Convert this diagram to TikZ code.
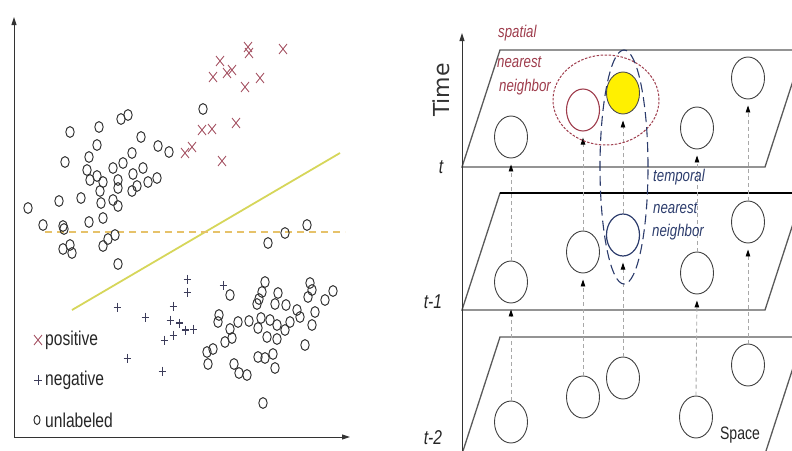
\documentclass[tikz,border=0pt]{standalone}
\usepackage{fontspec}
\setmainfont{Liberation Sans}
\newfontfamily\narrowfont[FakeStretch=0.78]{Liberation Sans}
\newfontfamily\timefont{DejaVu Sans}
\usetikzlibrary{shapes.geometric,arrows.meta}
\definecolor{poscol}{HTML}{A85868}
\definecolor{negcol}{HTML}{3C3C5A}
\definecolor{unlcol}{HTML}{333333}
\definecolor{solidyel}{HTML}{D6D65A}
\definecolor{dashyel}{HTML}{E6C26A}
\definecolor{spatcol}{HTML}{9E3C4C}
\definecolor{tempcol}{HTML}{2C3C6C}
\definecolor{planecol}{HTML}{5A5A5A}
\definecolor{conncol}{HTML}{A8A8A8}
\definecolor{sunyel}{HTML}{FFF000}
\begin{document}
\begin{tikzpicture}[x=1pt,y=-1pt,
  axisline/.style={black!80, line width=1pt, -{Triangle[length=8pt,width=5pt]}},
  posmark/.style={poscol, line width=0.9pt},
  negmark/.style={negcol, line width=0.9pt},
  unlmark/.style={unlcol, line width=1pt},
  legtext/.style={font=\narrowfont\fontsize{20}{21}\selectfont, text=black!85, anchor=west, inner sep=0pt},
  cell/.style={ellipse, draw=black!75, line width=0.9pt, minimum width=33pt, minimum height=42pt, inner sep=0pt},
  conn/.style={conncol, line width=0.9pt, dash pattern=on 4pt off 3pt, -{Triangle[color=black,length=7pt,width=4.5pt]}, shorten >=6pt},
  plane/.style={planecol, line width=1.3pt},
  tlabel/.style={font=\narrowfont\itshape\fontsize{20}{21}\selectfont, text=black!85, inner sep=0pt},
  spattext/.style={font=\narrowfont\itshape\fontsize{17}{18}\selectfont, text=spatcol, anchor=west, inner sep=0pt},
  temptext/.style={font=\narrowfont\itshape\fontsize{17}{18}\selectfont, text=tempcol, anchor=west, inner sep=0pt}
]
\useasboundingbox (0,0) rectangle (792,450);

% ---------------- left: scatter plot ----------------
\coordinate (origin) at (14,437);
\coordinate (ytop) at (14,17);
\coordinate (xend) at (350,437);
\draw[axisline] (origin) -- (ytop);
\draw[axisline] (origin) -- (xend);

\coordinate (solidA) at (72,310);
\coordinate (solidB) at (340,153);
\coordinate (dashA) at (45,232);
\coordinate (dashB) at (345,232);
\draw[solidyel, line width=1.8pt] (solidA) -- (solidB);
\draw[dashyel, line width=1.4pt, dash pattern=on 7pt off 5pt] (dashA) -- (dashB);

% positive (crosses)
\foreach \p in {(248,47),(249,53),(283,49),(220,61),(213,77),(227,73),(232,70),(245,87),(260,78),(202,130),(212,129),(236,123),(185,153),(192,147),(222,161)}
  \draw[posmark] \p +(-4,-5) -- +(4,5) \p +(-4,5) -- +(4,-5);

% negative (plus signs)
\foreach \p in {(187,279),(187,292),(117,307),(145,317),(173,306),(170,320),(179,323),(185,330),(193,329),(173,335),(164,340),(127,358),(162,371),(223,285)}
  \draw[negmark] \p +(-3.5,0) -- +(3.5,0) \p +(0,-4.5) -- +(0,4.5);
\draw[negmark, line width=1.4pt] (176,323) -- (183,323) (182,330) -- (189,330);

% unlabeled (circles)
\foreach \p in {(203,109),(121,119),(128,115),(99,127),(70,132),(141,137),(97,145),(158,146),(169,152),(132,153),(89,157),(65,162),(123,163),(113,168),(143,168),(87,170),(97,176),(133,174),(157,178),(148,182),(90,180),(103,182),(118,180),(100,191),(118,188),(132,191),(137,186),(59,201),(81,198),(101,203),(113,200),(118,206),(28,208),(89,222),(103,218),(43,225),(63,226),(64,229),(115,235),(108,239),(103,246),(63,249),(70,245),(72,253),(118,264),(268,243),(285,233),(307,225),
  (230,295),(265,282),(262,292),(259,299),(257,304),(278,293),(275,304),(286,305),(310,283),(312,290),(308,297),(333,291),(325,300),(297,310),(300,317),(315,312),(312,325),(219,315),(218,322),(238,322),(230,329),(249,321),(261,318),(270,320),(277,325),(290,322),(285,330),(258,328),(267,337),(277,339),(232,338),(225,342),(207,352),(213,349),(208,364),(258,357),(265,358),(273,354),(275,368),(234,364),(239,373),(247,375),(305,345),(263,403)}
  \draw[unlmark] \p ellipse [x radius=4.2pt, y radius=5.4pt];

% legend
\draw[posmark] (38,340) +(-4,-5) -- +(4,5) (38,340) +(-4,5) -- +(4,-5);
\draw[negmark] (38,380) +(-4,0) -- +(4,0) (38,380) +(0,-5) -- +(0,5);
\draw[unlmark] (37,420) ellipse [x radius=3pt, y radius=4.5pt];
\node[legtext] (legpos) at (45,340) {positive};
\node[legtext] (legneg) at (45,380) {negative};
\node[legtext] (legunl) at (45,420) {unlabeled};

% ---------------- right: space-time planes ----------------
\draw[plane] (462,167) -- (765,167) -- (803,50) -- (500,50) -- cycle;
\draw[plane] (462,310) -- (765,310) -- (803,193) -- (500,193) -- cycle;
\draw[black, line width=1.4pt] (500,193) -- (803,193);
\draw[plane] (462,454) -- (765,454) -- (803,337) -- (500,337) -- cycle;

\coordinate (tbot) at (462,452);
\coordinate (ttop) at (462,33);
\draw[axisline] (tbot) -- (ttop);

\node[font=\timefont\fontsize{22}{22}\selectfont, text=black!80, rotate=90, inner sep=0pt] (timelab) at (441,90) {Time};
\node[tlabel] (tl0) at (441,167) {t};
\node[tlabel] (tl1) at (433,302) {t-1};
\node[tlabel] (tl2) at (433,438) {t-2};

% cells
\node[cell] (a0) at (511,137) {};
\node[cell, draw=spatcol, line width=1.1pt] (b0) at (583,110) {};
\node[cell, fill=sunyel, draw=black!70] (c0) at (623,93) {};
\node[cell] (d0) at (697,128) {};
\node[cell] (e0) at (748,78) {};

\node[cell] (a1) at (511,282) {};
\node[cell] (b1) at (583,252) {};
\node[cell, draw=tempcol, line width=1.2pt] (c1) at (623,235) {};
\node[cell] (d1) at (697,273) {};
\node[cell] (e1) at (748,222) {};

\node[cell] (a2) at (511,422) {};
\node[cell] (b2) at (583,397) {};
\node[cell] (c2) at (623,378) {};
\node[cell] (d2) at (696,417) {};
\node[cell] (e2) at (748,365) {};

% connectors
\foreach \c in {a,b,c,d,e}{
  \draw[conn] (\c2.north) -- (\c1.south);
  \draw[conn] (\c1.north) -- (\c0.south);
}

% neighbourhoods
\node[ellipse, draw=spatcol, line width=1pt, dash pattern=on 2.5pt off 1.5pt, minimum width=106pt, minimum height=90pt, inner sep=0pt] (spatnb) at (606,100) {};
\node[ellipse, draw=tempcol, line width=1.1pt, dash pattern=on 10pt off 5pt, minimum width=48pt, minimum height=234pt, inner sep=0pt] (tempnb) at (624,167) {};

\node[spattext] (sp1) at (498,33) {spatial};
\node[spattext] (sp2) at (497,62) {nearest};
\node[spattext] (sp3) at (499,87) {neighbor};

\node[temptext] (tp1) at (653,177) {temporal};
\node[temptext] (tp2) at (653,208) {nearest};
\node[temptext] (tp3) at (652,232) {neighbor};

\node[font=\narrowfont\fontsize{18}{19}\selectfont, text=black!85, inner sep=0pt] (spacelab) at (740,435) {Space};
\end{tikzpicture}
\end{document}
